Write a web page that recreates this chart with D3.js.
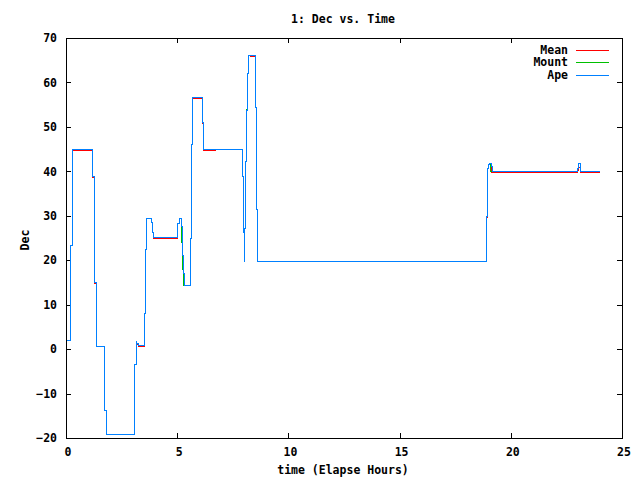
<!DOCTYPE html>
<html>
<head>
  <meta charset="UTF-8">
  <style>
    body { margin: 0; background: #fff; }
    text { font-family: "DejaVu Sans Mono", monospace; font-weight: bold; font-size: 11.5px; fill: #000; }
    .tick line { stroke: #000; }
    .series { fill: none; stroke-width: 1; shape-rendering: crispEdges; }
  </style>
</head>
<body>
<svg id="chart" width="640" height="480"></svg>
<script src="https://d3js.org/d3.v7.min.js"></script>
<script>
// Axis ticks
let xTicks = [0, 5, 10, 15, 20, 25];
let yTicks = [-20, -10, 0, 10, 20, 30, 40, 50, 60, 70];

// Series (step data: time in elapsed hours, dec in degrees)
let apeTime = [0, 0.21, 0.27, 1.20, 1.26, 1.29, 1.35, 1.39, 1.71, 1.75, 1.80, 1.84,
  3.06, 3.10, 3.15, 3.19, 3.24, 3.53, 3.58, 3.62, 3.85, 3.89, 3.94,
  5.02, 5.09, 5.20, 5.24, 5.28, 5.32, 5.62, 5.66, 5.69, 6.16, 6.19,
  7.94, 7.99, 8.02, 8.04, 8.08, 8.12, 8.17, 8.21, 8.53, 8.57, 8.62,
  18.91, 18.96, 19.01, 19.05, 19.13, 19.18, 23.00, 23.06, 23.14, 23.99];
let apeDec = [1.9, 23.4, 45.0, 38.8, 26.1, 14.9, 5.3, 0.5, -4.4, -13.8, -18.9, -19.1,
  -13.8, -3.5, 1.75, 1.2, 0.9, 8.0, 22.4, 29.5, 28.4, 26.3, 25.1,
  28.2, 29.5, 27.6, 21.0, 17.0, 14.3, 25.0, 46.0, 56.6, 50.9, 45.0,
  38.9, 26.3, 19.7, 27.2, 42.2, 53.6, 62.1, 66.1, 54.4, 31.4, 19.8,
  29.9, 40.6, 41.5, 41.8, 41.2, 40.0, 40.6, 41.7, 40.0, 40.0];

let mountTime = [0, 0.21, 0.27, 1.20, 1.26, 1.29, 1.35, 1.39, 1.71, 1.75, 1.80, 1.84,
  3.06, 3.10, 3.15, 3.19, 3.24, 3.53, 3.58, 3.62, 3.85, 3.89, 3.94,
  5.02, 5.09, 5.20, 5.21, 5.24, 5.27, 5.62, 5.66, 5.69, 6.16, 6.19,
  7.94, 7.99, 8.02, 8.04, 8.08, 8.10, 8.15, 8.19, 8.53, 8.57, 8.62,
  18.91, 18.96, 19.01, 19.05, 19.10, 23.00, 23.06, 23.14, 23.99];
let mountDec = [1.9, 23.4, 45.0, 38.8, 26.1, 14.9, 5.3, 0.5, -4.4, -13.8, -18.9, -19.1,
  -13.8, -3.5, 1.75, 1.2, 0.9, 8.0, 22.4, 29.5, 28.4, 26.3, 25.1,
  28.2, 29.5, 27.6, 24.0, 18.0, 14.3, 25.0, 46.0, 56.6, 50.9, 45.0,
  38.9, 26.3, 19.7, 27.2, 42.2, 54.0, 62.0, 66.1, 54.4, 31.4, 19.8,
  29.9, 40.6, 41.5, 41.5, 40.0, 40.6, 41.7, 40.0, 40.0];

let meanTime = [0, 0.21, 0.27, 1.20, 1.26, 1.29, 1.35, 1.39, 1.71, 1.75, 1.80, 1.84,
  3.06, 3.10, 3.15, 3.19, 3.24, 3.53, 3.58, 3.62, 3.85, 3.89, 3.94,
  5.02, 5.09, 5.20, 5.24, 5.28, 5.32, 5.62, 5.66, 5.69, 6.14, 6.19, 6.70,
  7.94, 7.99, 8.02, 8.04, 8.08, 8.12, 8.17, 8.21, 8.31, 8.53, 8.57, 8.62,
  18.91, 18.96, 19.01, 19.05, 19.13, 23.00, 23.03, 23.14, 23.99];
let meanDec = [1.9, 23.4, 44.75, 38.6, 26.1, 14.8, 5.3, 0.5, -4.4, -13.8, -18.9, -19.1,
  -13.8, -3.5, 1.5, 1.0, 0.65, 8.0, 22.4, 29.5, 28.4, 26.3, 24.85,
  28.2, 29.5, 27.6, 21.0, 17.0, 14.3, 25.0, 46.0, 56.35, 50.7, 44.75, 45.0,
  38.9, 26.3, 19.7, 27.2, 42.2, 53.6, 62.1, 66.1, 65.85, 54.3, 31.4, 19.8,
  29.7, 40.6, 41.5, 41.8, 39.8, 40.3, 40.9, 39.8, 39.8];

let seriesNames = ["Mean", "Mount", "Ape"];
let seriesColors = ["#ff0000", "#00c000", "#0080ff"];

let margin = {left: 66, top: 38, right: 18, bottom: 42};
let width = 640 - margin.left - margin.right;   // 556
let height = 480 - margin.top - margin.bottom;  // 400

let svg = d3.select("#chart");
let g = svg.append("g").attr("transform", `translate(${margin.left},${margin.top})`);

let x = d3.scaleLinear().domain([0, 25]).range([0, width]);
let y = d3.scaleLinear().domain([-20, 70]).range([height, 0]);

// Axes with inward ticks on all four sides
g.append("g").attr("transform", `translate(0,${height})`)
  .call(d3.axisBottom(x).tickValues(xTicks).tickSize(-5).tickPadding(10).tickFormat(d3.format("d")))
  .call(a => a.selectAll("text").attr("x", 1.5));
g.append("g")
  .call(d3.axisTop(x).tickValues(xTicks).tickSize(-5).tickFormat(""));
g.append("g")
  .call(d3.axisLeft(y).tickValues(yTicks).tickSize(-5).tickPadding(9).tickFormat(d3.format("d")));
g.append("g").attr("transform", `translate(${width},0)`)
  .call(d3.axisRight(y).tickValues(yTicks).tickSize(-5).tickFormat(""));
g.selectAll(".domain").remove();
g.selectAll(".tick text").attr("font-family", null).attr("font-size", null);
g.selectAll(".tick line").attr("shape-rendering", "crispEdges");

// Series lines, drawn in legend order so Ape sits on top
let line = d3.line()
  .x(d => x(d[0]))
  .y(d => y(d[1]))
  .curve(d3.curveStepAfter);

let allSeries = [
  d3.zip(meanTime, meanDec),
  d3.zip(mountTime, mountDec),
  d3.zip(apeTime, apeDec)
];

g.selectAll("path.series")
  .data(allSeries)
  .enter()
  .append("path")
  .attr("class", "series")
  .attr("stroke", (d, i) => seriesColors[i])
  .attr("d", line);

// Border box
g.append("rect")
  .attr("x", 0.5).attr("y", 0.5)
  .attr("width", width).attr("height", height)
  .attr("fill", "none").attr("stroke", "#000")
  .attr("shape-rendering", "crispEdges");

// Legend
let legend = g.append("g");
seriesNames.forEach((name, i) => {
  let ly = 11.5 + i * 12.5;
  legend.append("text")
    .attr("x", 502).attr("y", ly).attr("dy", "0.35em")
    .attr("text-anchor", "end")
    .text(name);
  legend.append("line")
    .attr("x1", 510).attr("x2", 543)
    .attr("y1", Math.round(ly) + 0.5).attr("y2", Math.round(ly) + 0.5)
    .style("stroke", seriesColors[i])
    .style("stroke-width", 1);
});

// Titles
svg.append("text")
  .attr("x", 343).attr("y", 22.5)
  .attr("text-anchor", "middle")
  .text("1: Dec vs. Time");

svg.append("text")
  .attr("x", 343).attr("y", 474)
  .attr("text-anchor", "middle")
  .text("time (Elapse Hours)");

svg.append("text")
  .attr("transform", "translate(28.5,240) rotate(-90)")
  .attr("text-anchor", "middle")
  .text("Dec");
</script>
</body>
</html>
